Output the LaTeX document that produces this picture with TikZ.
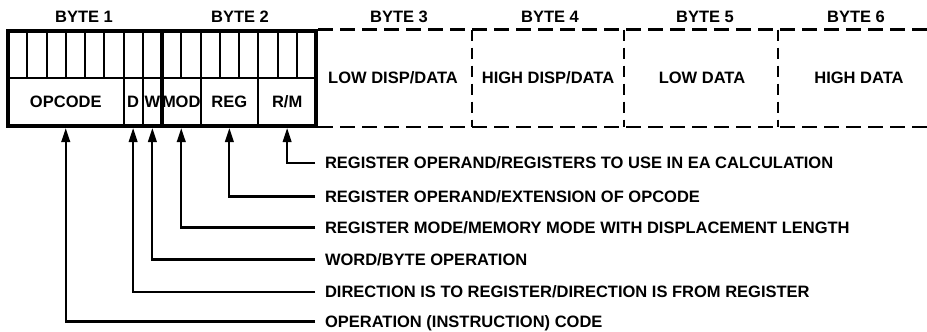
\documentclass[tikz,border=0pt]{standalone}
\usepackage{fontspec}
\setmainfont{Liberation Sans}
\usetikzlibrary{arrows.meta}
\begin{document}
\begin{tikzpicture}[x=1pt,y=-1pt,
  lbl/.style={font=\bfseries\fontsize{16.5}{19}\selectfont, inner sep=0pt, outer sep=0pt, text height=11.8pt, text depth=0pt},
  field/.style={lbl, draw, line width=2pt, minimum height=48pt, outer sep=2pt},
  thin/.style={line width=2pt},
  thick/.style={line width=4pt},
  dashh/.style={line width=2.2pt, dash pattern=on 15pt off 7pt},
  dashv/.style={line width=2.2pt, dash pattern=on 11pt off 7pt},
  arr/.style={line width=2.2pt, -{Triangle[length=14pt,width=8.5pt]}}
]
\useasboundingbox (0,0) rectangle (927,332);

% bit cells (top row)
\foreach \i in {1,...,15} {
  \draw[thin] ({8+\i*19.25},31) -- ({8+\i*19.25},78);
}
\draw[thin] (8,78) -- (316,78);

% fields (bottom row)
\node[field, minimum width=115.5pt] (opcode) at (65.75,102) {OPCODE};
\node[field, minimum width=19.25pt] (dfield) at (133.125,102) {D};
\node[field, minimum width=19.25pt] (wfield) at (152.375,102) {W};
\node[field, minimum width=38.5pt] (mod) at (181.25,102) {MOD};
\node[field, minimum width=57.75pt] (reg) at (229.375,102) {REG};
\node[field, minimum width=57.75pt] (rm) at (287.125,102) {R/M};

% outer box and byte boundary
\draw[thick] (8,31) rectangle (316,126);
\draw[thick] (162,31) -- (162,126);

% bytes 3-6 (dashed)
\draw[dashh] (318,29.5) -- (927,29.5);
\draw[dashh] (318,127) -- (927,127);
\draw[dashv] (472,29.5) -- (472,127);
\draw[dashv] (624,29.5) -- (624,127);
\draw[dashv] (778,29.5) -- (778,127);

% byte headers
\node[lbl] (h1) at (84,17) {BYTE 1};
\node[lbl] (h2) at (240,17) {BYTE 2};
\node[lbl] (h3) at (399,17) {BYTE 3};
\node[lbl] (h4) at (550,17) {BYTE 4};
\node[lbl] (h5) at (705,17) {BYTE 5};
\node[lbl] (h6) at (856,17) {BYTE 6};

% byte contents
\node[lbl] (b3) at (393,78) {LOW DISP/DATA};
\node[lbl] (b4) at (548,78) {HIGH DISP/DATA};
\node[lbl] (b5) at (702,78) {LOW DATA};
\node[lbl] (b6) at (859,78) {HIGH DATA};

% descriptions
\node[lbl, anchor=west] (l1) at (325,163) {REGISTER OPERAND/REGISTERS TO USE IN EA CALCULATION};
\node[lbl, anchor=west] (l2) at (325,196.5) {REGISTER OPERAND/EXTENSION OF OPCODE};
\node[lbl, anchor=west] (l3) at (325,227.5) {REGISTER MODE/MEMORY MODE WITH DISPLACEMENT LENGTH};
\node[lbl, anchor=west] (l4) at (325,259.5) {WORD/BYTE OPERATION};
\node[lbl, anchor=west] (l5) at (325,292) {DIRECTION IS TO REGISTER/DIRECTION IS FROM REGISTER};
\node[lbl, anchor=west] (l6) at (325,321.5) {OPERATION (INSTRUCTION) CODE};

% connectors
\draw[arr] ([xshift=-10pt]l1.west) -| (rm.south);
\draw[arr] ([xshift=-10pt]l2.west) -| (reg.south);
\draw[arr] ([xshift=-10pt]l3.west) -| (mod.south);
\draw[arr] ([xshift=-10pt]l4.west) -| (wfield.south);
\draw[arr] ([xshift=-10pt]l5.west) -| (dfield.south);
\draw[arr] ([xshift=-10pt]l6.west) -| (opcode.south);
\end{tikzpicture}
\end{document}
